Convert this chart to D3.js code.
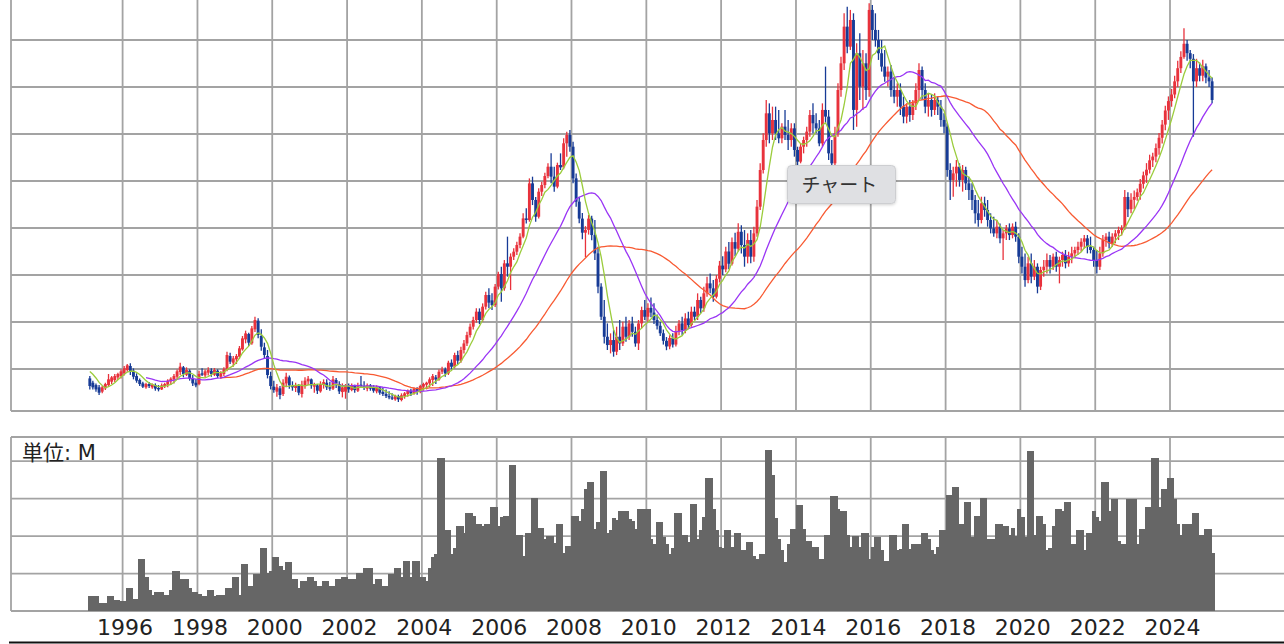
<!DOCTYPE html>
<html>
<head>
<meta charset="utf-8">
<script src="https://cdn.jsdelivr.net/npm/d3@7"></script>
<style>
body { margin: 0; background: #fff; }
</style>
</head>
<body>
<div id="chart"></div>
<script>
// 月足データ (1995-02 〜 2025-02)
const firstMonth = Date.UTC(1995, 1, 1)
// 表示範囲より前の終値 (移動平均の計算用)
const priorClose = [480, 520, 530, 500, 490]

const open = [
  400,354,329,305,259,294,329,365,383,411,425,
  454,489,532,482,425,383,347,305,340,305,329,298,
  283,319,333,369,390,418,468,518,439,482,397,354,
  340,454,432,461,482,439,482,418,447,489,638,567,
  603,631,709,815,872,773,922,1014,851,730,638,425,
  312,259,294,234,347,411,319,298,319,234,326,369,
  390,312,326,262,333,354,305,291,383,340,255,259,
  319,276,319,269,333,319,291,326,298,262,305,255,
  234,213,198,177,213,170,213,234,269,241,291,255,
  312,333,347,383,411,389,471,496,453,567,524,648,
  588,702,772,861,950,1021,1110,1021,1163,1287,1230,1180,
  1376,1510,1358,1624,1588,1695,1748,1819,1908,2102,2085,2475,
  2298,2120,2386,2457,2553,2652,2546,2440,2670,2645,2901,2990,
  2865,2528,2280,2100,1950,1980,2100,1925,1730,1376,1056,843,
  755,808,684,843,772,950,843,985,896,772,985,1127,
  1056,1150,1100,1021,960,880,800,740,830,760,900,985,
  914,1038,967,1110,1056,1234,1145,1305,1411,1358,1269,1460,
  1600,1560,1750,1620,1850,1780,1960,1819,1695,1872,1695,1943,
  2227,2617,2936,3220,3007,3149,3007,2954,3078,2990,2936,3060,
  2830,2706,2865,2936,3025,3202,3114,3060,2900,3256,3185,2794,
  2688,3007,3468,3752,4142,3929,4213,3256,3859,3504,3752,3468,
  4320,4107,4000,3859,3717,3610,3664,3468,3397,3468,3291,3185,
  3291,3202,3326,3468,3681,3468,3291,3362,3256,3362,3291,3149,
  3078,2617,2511,2581,2652,2511,2617,2475,2404,2298,2156,2085,
  2262,2191,2085,1996,1943,2014,1890,1943,1996,1925,2014,1908,
  1695,1588,1446,1624,1482,1588,1376,1553,1588,1659,1588,1695,
  1588,1659,1713,1624,1695,1730,1766,1801,1854,1890,1801,1766,
  1659,1588,1730,1872,1908,1837,1908,1943,1978,2000,2330,2200,
  2300,2330,2380,2470,2560,2620,2720,2760,2850,2960,3100,3250,
  3350,3420,3560,3700,3820,3960,3860,3800,3560,3700,3620,3720,
  3600,3560
]
const high = [
  425,376,347,329,319,354,447,425,447,461,496,
  532,553,560,507,454,400,365,354,361,347,347,329,
  347,354,390,411,447,496,567,532,518,496,436,390,
  482,507,496,518,507,510,496,475,518,684,674,638,
  659,745,851,908,886,957,1057,1039,922,780,702,471,
  376,340,319,390,461,432,369,354,340,376,411,425,
  400,354,340,369,390,390,365,425,404,369,347,340,
  347,347,333,354,425,369,347,340,329,326,319,298,
  283,262,241,227,227,241,255,283,291,305,305,333,
  354,365,411,447,436,496,524,517,588,602,673,695,
  737,808,896,985,1056,1145,1145,1198,1322,1358,1305,1404,
  1535,1588,1659,1908,1730,1784,1855,1943,2156,2209,2528,2546,
  2330,2422,2493,2589,2688,2794,2652,2695,2794,2954,3025,3043,
  2918,2581,2333,2160,2020,2140,2130,2085,1801,1411,1234,985,
  879,914,950,1021,1003,1056,1021,1056,950,1021,1163,1234,
  1200,1260,1200,1080,1000,920,840,860,880,960,1021,1056,
  1092,1110,1163,1163,1305,1269,1376,1482,1517,1446,1500,1650,
  1700,1800,1850,1900,1950,2050,2030,1978,1943,1978,2014,2298,
  2688,3007,3362,3326,3291,3291,3256,3114,3256,3149,3114,3114,
  2865,2901,2972,3078,3256,3326,3220,3150,3326,3717,3256,2936,
  3078,3539,3823,4284,4355,4320,4284,3965,4071,3894,3859,4390,
  4373,4284,4107,4000,3894,3717,3735,3610,3539,3539,3397,3326,
  3362,3362,3539,3752,3717,3539,3433,3415,3433,3397,3362,3220,
  3114,2688,2652,2723,2688,2670,2652,2546,2475,2351,2298,2333,
  2333,2298,2156,2120,2085,2049,1978,2031,2049,2049,2067,1943,
  1801,1730,1695,1730,1659,1624,1588,1659,1730,1713,1730,1748,
  1695,1748,1766,1748,1801,1801,1854,1890,1925,1925,1908,1801,
  1766,1801,1925,1943,1961,1943,1978,2014,2030,2404,2380,2370,
  2400,2420,2520,2600,2690,2780,2800,2900,3010,3150,3300,3400,
  3480,3620,3780,3880,4125,4000,3894,3850,3800,3760,3790,3750,
  3680,3600
]
const low = [
  283,283,259,223,241,276,312,340,361,383,400,
  432,471,436,390,354,319,298,291,298,291,269,262,
  276,298,305,329,347,383,436,411,425,376,319,305,
  326,425,411,432,418,425,404,397,425,475,553,525,
  553,610,695,773,745,759,894,826,695,613,400,283,
  248,205,177,213,305,291,269,255,220,198,291,326,
  291,248,234,248,291,276,269,276,298,234,198,184,
  248,262,248,255,298,276,262,269,248,241,227,213,
  191,177,170,163,149,156,184,205,213,227,227,241,
  269,283,305,319,340,375,446,418,436,496,506,553,
  567,666,744,836,921,992,978,1003,1134,1145,1127,1160,
  1347,1216,1333,1482,1340,1659,1713,1784,1890,2049,2067,2244,
  2067,2102,2340,2422,2528,2475,2386,2422,2617,2624,2759,2812,
  2475,2227,2050,1880,1690,1930,1870,1660,1305,1021,772,702,
  666,631,648,702,744,790,808,843,737,702,932,1021,
  1000,1050,980,920,850,760,700,710,730,740,860,861,
  879,932,950,1021,1021,1092,1110,1269,1305,1216,1250,1420,
  1500,1530,1560,1600,1700,1750,1730,1588,1624,1624,1641,1908,
  2191,2581,2865,2901,2936,2936,2901,2901,2936,2830,2865,2759,
  2652,2688,2794,2865,2972,3007,3007,2870,2865,3114,2723,2652,
  2652,2972,3397,3681,3859,3894,3043,3078,3362,3256,3362,3397,
  4000,3929,3788,3664,3557,3504,3397,3326,3291,3202,3114,3114,
  3131,3149,3256,3362,3362,3220,3185,3185,3202,3202,3078,3007,
  2546,2298,2333,2440,2440,2387,2404,2298,2191,2049,2014,2049,
  2120,2014,1943,1908,1890,1837,1659,1872,1872,1890,1854,1624,
  1517,1376,1411,1411,1446,1305,1340,1482,1517,1517,1553,1535,
  1411,1588,1571,1588,1624,1677,1713,1748,1783,1730,1730,1588,
  1517,1553,1695,1801,1783,1801,1837,1872,1920,1980,2117,2156,
  2200,2290,2300,2420,2480,2580,2650,2700,2780,2900,3040,3150,
  3290,3380,3500,3650,3800,3780,3700,2972,3500,3560,3560,3540,
  3500,3326
]
const close = [
  319,305,283,248,305,340,390,411,425,447,475,
  507,539,471,418,376,340,312,340,319,333,291,283,
  326,340,376,397,425,475,525,447,489,397,347,326,
  447,439,475,489,447,489,425,454,496,649,578,613,
  638,720,826,879,780,932,1021,862,737,649,436,319,
  276,305,223,354,418,326,305,326,248,333,376,397,
  326,329,269,340,361,305,291,390,347,262,305,319,
  283,319,276,326,319,298,326,291,269,305,248,234,
  213,198,184,213,177,220,241,269,241,291,255,319,
  340,354,390,425,389,471,496,453,567,524,648,588,
  702,772,861,950,1021,1110,1021,1163,1287,1206,1180,1376,
  1510,1358,1624,1588,1695,1748,1819,1908,2102,2085,2475,2298,
  2120,2386,2457,2553,2652,2546,2440,2670,2645,2901,2990,2865,
  2528,2280,2100,1950,1980,2100,1925,1730,1376,1056,843,755,
  808,684,843,772,950,843,985,896,772,985,1127,1056,
  1150,1100,1021,960,880,800,740,830,760,900,985,914,
  1038,967,1110,1056,1234,1145,1305,1411,1358,1269,1460,1600,
  1560,1750,1620,1850,1780,1960,1819,1695,1872,1695,1943,2227,
  2617,2936,3220,3007,3149,3007,2954,3078,2990,2936,3060,2830,
  2706,2865,2936,3025,3202,3114,3060,2900,3256,3185,2794,2688,
  3007,3468,3752,4142,3929,4213,3256,3859,3504,3752,3468,4320,
  4107,4000,3859,3717,3610,3664,3468,3397,3468,3291,3185,3291,
  3202,3326,3468,3681,3468,3291,3362,3256,3362,3291,3149,3078,
  2617,2511,2581,2652,2511,2617,2475,2404,2298,2156,2085,2262,
  2191,2085,1996,1943,2014,1890,1943,1996,1925,2014,1908,1695,
  1588,1446,1624,1482,1588,1376,1553,1588,1659,1588,1695,1588,
  1659,1713,1624,1695,1730,1766,1801,1854,1890,1801,1766,1659,
  1588,1730,1872,1908,1837,1908,1943,1978,2000,2330,2200,2300,
  2330,2380,2470,2560,2620,2720,2760,2850,2960,3100,3250,3350,
  3420,3560,3700,3820,3960,3860,3800,3560,3700,3620,3720,3600,
  3560,3362
]
// 出来高 (単位: M)
const volume = [
  3.9,3.9,3.9,2.1,2.1,2.1,3.9,3.9,3.0,3.0,2.7,
  2.7,6.2,6.2,3.3,3.3,13.9,13.9,9.2,5.7,4.4,5.1,5.1,
  5.1,4.4,4.4,5.7,10.8,10.8,8.6,8.6,8.6,6.2,5.1,5.1,
  4.6,3.9,3.9,5.7,5.7,3.9,4.4,4.4,4.4,6.2,6.2,9.1,
  9.1,4.4,12.6,12.6,6.8,6.8,10.0,10.0,16.8,16.8,10.1,10.8,
  14.4,14.4,12.0,11.0,13.2,13.2,8.6,8.6,6.2,7.9,7.9,9.1,
  9.1,7.9,6.8,6.8,7.9,7.9,6.8,6.8,8.6,8.6,9.1,9.1,
  8.6,8.6,8.6,10.1,10.1,11.6,11.6,11.6,7.3,8.6,8.6,6.8,
  6.8,10.0,10.0,11.6,11.6,9.2,13.3,13.3,9.2,13.3,13.3,9.2,
  9.2,8.0,11.6,14.4,15.1,40.9,40.9,21.5,21.5,15.3,16.9,22.7,
  22.7,20.8,26.2,26.2,25.5,23.3,23.3,22.7,23.3,23.3,27.9,27.9,
  22.6,25.1,25.5,25.5,39.0,39.0,20.2,20.2,14.6,20.8,20.8,30.1,
  30.1,22.1,22.1,19.3,19.9,19.9,18.1,23.3,23.3,15.5,17.4,17.4,
  25.5,25.5,23.9,27.3,32.6,34.4,34.4,22.0,23.7,37.3,37.3,20.9,
  21.5,24.9,24.4,26.7,26.7,26.7,24.6,23.9,22.0,27.3,27.3,27.3,
  27.3,19.1,18.0,23.7,23.7,19.7,18.0,15.1,16.9,26.1,26.1,20.2,
  20.2,18.4,28.6,28.6,19.1,21.5,25.1,35.5,35.5,27.3,21.5,17.2,
  16.9,21.5,21.5,17.2,20.8,20.8,16.2,16.2,18.4,18.4,14.6,14.0,
  15.3,15.3,43.1,43.1,36.2,24.9,19.1,16.2,13.2,18.0,22.0,22.0,
  28.4,28.4,22.0,18.6,18.6,17.2,17.2,14.0,14.0,20.2,20.2,30.8,
  30.8,27.3,26.7,26.7,20.2,17.2,20.0,20.0,17.2,20.8,20.8,14.0,
  17.2,19.7,19.7,16.2,13.3,13.3,20.2,20.2,16.2,16.6,23.3,23.3,
  16.6,18.0,18.0,18.0,20.8,20.8,19.1,16.2,15.1,17.2,21.5,21.5,
  31.0,31.0,33.2,33.2,23.3,23.3,29.1,29.1,19.7,25.5,25.5,30.1,
  30.1,19.1,19.1,19.1,23.3,23.3,22.6,22.6,20.2,22.1,20.0,27.3,
  25.0,19.7,42.6,42.6,20.2,25.5,25.5,23.3,16.2,16.9,22.6,27.3,
  27.3,26.7,29.1,29.1,18.0,18.0,21.5,21.5,16.2,20.8,20.8,26.7,
  25.0,23.9,34.4,34.4,26.7,30.0,30.0,18.6,18.0,18.0,30.0,30.0,
  30.0,18.0,22.0,22.0,27.9,27.9,40.9,40.9,27.9,32.6,32.6,35.5,
  35.5,30.0,23.3,20.2,23.3,23.3,23.3,26.1,26.1,20.2,20.2,22.0,
  22.0,15.5
]

const maPeriods = [48, 24, 6]            // 描画順: 長期 → 短期
const maColors = ["#f85a32", "#9a35f5", "#9bcc3c"]
const yearTicks = d3.range(1996, 2025, 2)
const priceGrid = d3.range(500, 4501, 500)
const volumeGrid = [10, 20, 30, 40]
const tooltipText = "チャート"

const W = 1284, H = 644
const left = 11, right = W
const gridColor = "#a3a3a3"

const months = d3.utcMonth.range(new Date(firstMonth), d3.utcMonth.offset(new Date(firstMonth), close.length))
const nextMonth = d => d3.utcMonth.offset(d, 1)

let svg = d3.select("#chart").append("svg")
    .attr("width", W).attr("height", H)
    .style("display", "block")
    .style("background", "white")

let x = d3.scaleUtc()
    .domain([new Date(Date.UTC(1996, 0, 1)), new Date(Date.UTC(2024, 0, 1))])
    .range([122.6, 1170])
const xMid = d => (x(d) + x(nextMonth(d))) / 2
const yearX = yr => x(new Date(Date.UTC(yr, 0, 1)))

// 株価
let y = d3.scaleLinear().domain([500, 4000]).range([369, 40])
const mainTop = -10, mainBottom = 411

// 出来高
let yv = d3.scaleLinear().domain([0, 40]).range([611, 461.2])
const volTop = 437, volBottom = 611

// グリッド (株価)
let grid = svg.append("g").attr("stroke", gridColor).attr("stroke-width", 1.8)
grid.selectAll(".hp").data(priceGrid).join("line")
    .attr("x1", left).attr("x2", right)
    .attr("y1", d => y(d)).attr("y2", d => y(d))
grid.selectAll(".vp").data(yearTicks).join("line")
    .attr("x1", yearX).attr("x2", yearX)
    .attr("y1", mainTop).attr("y2", mainBottom)
grid.append("line").attr("x1", left).attr("x2", left).attr("y1", mainTop).attr("y2", mainBottom)
grid.append("line").attr("x1", left).attr("x2", right).attr("y1", mainBottom).attr("y2", mainBottom)

// グリッド (出来高)
let vgrid = svg.append("g").attr("stroke", gridColor).attr("stroke-width", 1.8)
vgrid.selectAll(".hv").data(volumeGrid).join("line")
    .attr("x1", left).attr("x2", right)
    .attr("y1", d => yv(d)).attr("y2", d => yv(d))
vgrid.selectAll(".vv").data(yearTicks).join("line")
    .attr("x1", yearX).attr("x2", yearX)
    .attr("y1", volTop).attr("y2", volBottom)
vgrid.append("line").attr("x1", left).attr("x2", right).attr("y1", volTop).attr("y2", volTop)
vgrid.append("line").attr("x1", left).attr("x2", right).attr("y1", volBottom).attr("y2", volBottom)
vgrid.append("line").attr("x1", left).attr("x2", left).attr("y1", volTop).attr("y2", volBottom)

// ローソク足
const upColor = "#e8323c", downColor = "#173b96"
let candles = svg.append("g").selectAll("g")
    .data(months).join("g")
    .attr("fill", (d, i) => close[i] >= open[i] ? upColor : downColor)
    .attr("stroke", (d, i) => close[i] >= open[i] ? upColor : downColor)
candles.append("line")
    .attr("x1", xMid).attr("x2", xMid)
    .attr("y1", (d, i) => y(high[i])).attr("y2", (d, i) => y(low[i]))
    .attr("stroke-width", 1.3)
candles.append("rect")
    .attr("stroke", "none")
    .attr("x", d => xMid(d) - 1.45)
    .attr("width", 2.9)
    .attr("y", (d, i) => y(Math.max(open[i], close[i])))
    .attr("height", (d, i) => Math.max(1.2, Math.abs(y(open[i]) - y(close[i]))))

// 移動平均
const allClose = priorClose.concat(close)
maPeriods.forEach((n, k) => {
    let ma = close.map((c, i) => {
        const end = i + priorClose.length + 1
        return end >= n ? d3.mean(allClose.slice(end - n, end)) : null
    })
    let line = d3.line()
        .defined((d, i) => ma[i] != null)
        .x(xMid)
        .y((d, i) => y(ma[i]))
    svg.append("path")
        .attr("d", line(months))
        .attr("fill", "none")
        .attr("stroke", maColors[k])
        .attr("stroke-width", 1.3)
})

// 出来高バー
svg.append("g").attr("fill", "#666").attr("shape-rendering", "crispEdges")
    .selectAll("rect")
    .data(months).join("rect")
    .attr("x", d => x(d))
    .attr("width", d => x(nextMonth(d)) - x(d) + 1)
    .attr("y", (d, i) => yv(volume[i]))
    .attr("height", (d, i) => volBottom - yv(volume[i]))

svg.append("text")
    .attr("x", 22).attr("y", 460)
    .style("font-family", "'DejaVu Sans', 'Noto Sans CJK JP', sans-serif")
    .style("font-size", "21px")
    .attr("fill", "#222")
    .text("単位: M")

// 年ラベル
svg.append("g").selectAll("text")
    .data(yearTicks).join("text")
    .attr("x", d => yearX(d) + 2.5)
    .attr("y", 635)
    .attr("text-anchor", "middle")
    .style("font-family", "'DejaVu Sans', sans-serif")
    .style("font-size", "22px")
    .attr("fill", "#222")
    .text(d => d)

svg.append("line")
    .attr("x1", 9).attr("x2", W).attr("y1", 642.5).attr("y2", 642.5)
    .attr("stroke", "#111").attr("stroke-width", 2)

// ツールチップ
let defs = svg.append("defs")
let shadow = defs.append("filter").attr("id", "tipShadow")
    .attr("x", "-20%").attr("y", "-30%").attr("width", "140%").attr("height", "170%")
shadow.append("feDropShadow").attr("dx", 0).attr("dy", 1).attr("stdDeviation", 1.5)
    .attr("flood-color", "#000").attr("flood-opacity", 0.18)
let tip = svg.append("g").attr("transform", "translate(787.5,165.5)")
tip.append("rect")
    .attr("width", 108).attr("height", 38).attr("rx", 4)
    .attr("fill", "#dfe0e3").attr("stroke", "#cdced1")
    .attr("filter", "url(#tipShadow)")
tip.append("text")
    .attr("x", 14).attr("y", 26)
    .style("font-family", "'Noto Sans CJK JP', sans-serif")
    .style("font-size", "19px")
    .attr("fill", "#333")
    .text(tooltipText)
</script>
</body>
</html>
